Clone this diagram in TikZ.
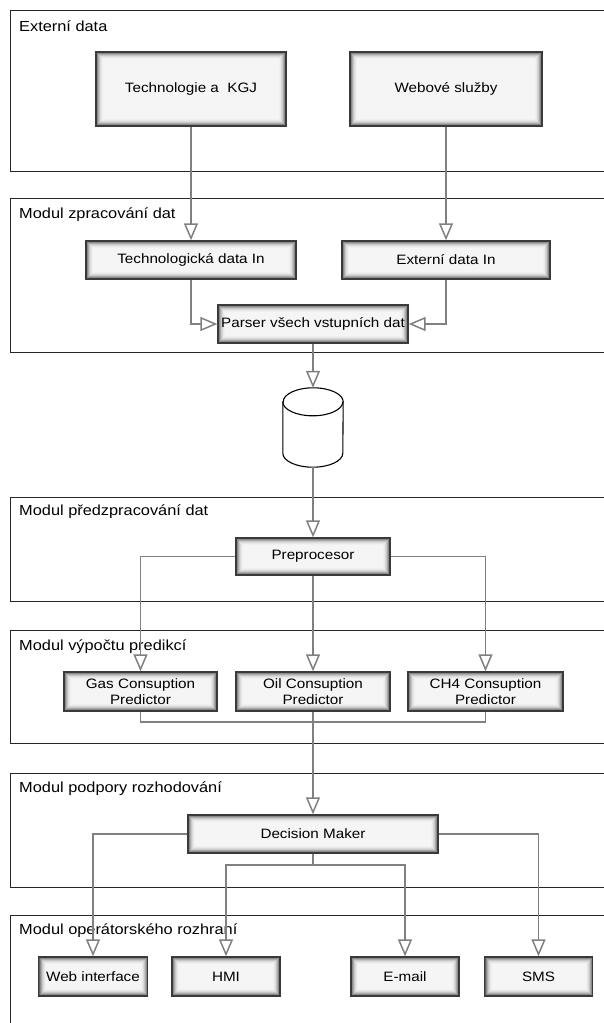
\documentclass[tikz,border=0pt]{standalone}
\usepackage{fontspec}
\setmainfont[FakeStretch=1.12]{Liberation Sans}
\usepackage{tikz}
\usetikzlibrary{arrows.meta}
\definecolor{linkgray}{HTML}{808080}
\definecolor{boxedge}{HTML}{3A3A3A}
\definecolor{frameline}{HTML}{262626}

\begin{document}
\begin{tikzpicture}[x=1pt,y=-1pt,
  font=\fontsize{13.6}{16.5}\selectfont,
  frame/.style={draw=frameline,line width=0.9pt},
  modlabel/.style={anchor=west,inner sep=0pt,font=\fontsize{14.6}{17}\selectfont},
  glowbox/.style={draw=boxedge,line width=1.4pt,align=center,inner sep=1pt,
    path picture={\foreach \d/\c in {0/62,1/46,2/33,3/22,4/14,5/9,6/6,7/4}
      \fill[black!\c] ([shift={(\d pt,-\d pt)}]path picture bounding box.north west) rectangle ([shift={(-\d pt,\d pt)}]path picture bounding box.south east);}},
  cyl/.style={draw=black,line width=1.1pt},
  link/.style={draw=linkgray,line width=1.5pt},
  flow/.style={link,-{Triangle[open,width=14pt,length=17pt]}}]
\useasboundingbox (0,0) rectangle (604,1023);
% module frames
\draw[frame] (10,10) rectangle (640,171);
\draw[frame] (10,198) rectangle (640,352);
\draw[frame] (10,497) rectangle (640,601);
\draw[frame] (10,630) rectangle (640,743);
\draw[frame] (10,773) rectangle (640,887);
\draw[frame] (10,915) rectangle (640,1060);
\node[modlabel] (l1) at (19,26) {Externí data};
\node[modlabel] (l2) at (19,215) {Modul zpracování dat};
\node[modlabel] (l3) at (19,512) {Modul předzpracování dat};
\node[modlabel] (l4) at (19,647) {Modul výpočtu predikcí};
\node[modlabel] (l5) at (19,789) {Modul podpory rozhodování};
\node[modlabel] (l6) at (19,931) {Modul operátorského rozhraní};
% sources
\node[glowbox,minimum width=190pt,minimum height=74pt] (tech) at (191,89) {Technologie a\ \ KGJ};
\node[glowbox,minimum width=192pt,minimum height=74pt] (webs) at (446,89) {Webové služby};
% input processing
\node[glowbox,minimum width=210pt,minimum height=38pt] (techin) at (191,260) {Technologická data In};
\node[glowbox,minimum width=208pt,minimum height=38pt] (extin) at (446,260) {Externí data In};
\node[glowbox,minimum width=190pt,minimum height=38pt] (parser) at (313,324) {Parser všech vstupních dat};
\node[minimum width=60pt,minimum height=79pt,inner sep=0pt] (db) at (313,427.5) {};
\draw[cyl,fill=white] ([yshift=-14pt]db.north west) -- ([yshift=14pt]db.south west)
  arc[start angle=180,end angle=360,x radius=30pt,y radius=14pt]
  -- ([yshift=-14pt]db.north east)
  arc[start angle=0,end angle=180,x radius=30pt,y radius=14pt] -- cycle;
\draw[cyl] ([yshift=-14pt]db.north west) arc[start angle=180,end angle=360,x radius=30pt,y radius=14pt];
% preprocessing and prediction
\node[glowbox,minimum width=154pt,minimum height=37pt] (prep) at (313,556.5) {Preprocesor};
\node[glowbox,minimum width=153pt,minimum height=39pt] (gas) at (140.5,691.5) {Gas Consuption\\Predictor};
\node[glowbox,minimum width=154pt,minimum height=39pt] (oil) at (313,691.5) {Oil Consuption\\Predictor};
\node[glowbox,minimum width=155pt,minimum height=39pt] (ch4) at (485.5,691.5) {CH4 Consuption\\Predictor};
% decision and outputs
\node[glowbox,minimum width=250pt,minimum height=38pt] (dm) at (313,834) {Decision Maker};
\node[glowbox,minimum width=109pt,minimum height=39pt] (wi) at (93,976.5) {Web interface};
\node[glowbox,minimum width=108pt,minimum height=39pt] (hmi) at (226,976.5) {HMI};
\node[glowbox,minimum width=108pt,minimum height=39pt] (mail) at (405,976.5) {E-mail};
\node[glowbox,minimum width=108pt,minimum height=39pt] (sms) at (538.5,976.5) {SMS};
\coordinate (join) at (313,722);
\coordinate (split) at (313,865);
% connectors
\draw[flow] (tech) -- (techin);
\draw[flow] (webs) -- (extin);
\draw[flow] (techin.south) |- (parser.west);
\draw[flow] (extin.south) |- (parser.east);
\draw[flow] (parser) -- (db);
\draw[flow] (db) -- (prep);
\draw[flow] (prep.west) -| (gas.north);
\draw[flow] (prep) -- (oil);
\draw[flow] (prep.east) -| (ch4.north);
\draw[link] (gas.south) |- (join) -| (ch4.south);
\draw[flow] (oil) -- (dm);
\draw[flow] (dm.west) -| (wi.north);
\draw[flow] (dm.east) -| (sms.north);
\draw[link] (dm.south) -- (split);
\draw[flow] (split) -| (hmi.north);
\draw[flow] (split) -| (mail.north);
\end{tikzpicture}
\end{document}
